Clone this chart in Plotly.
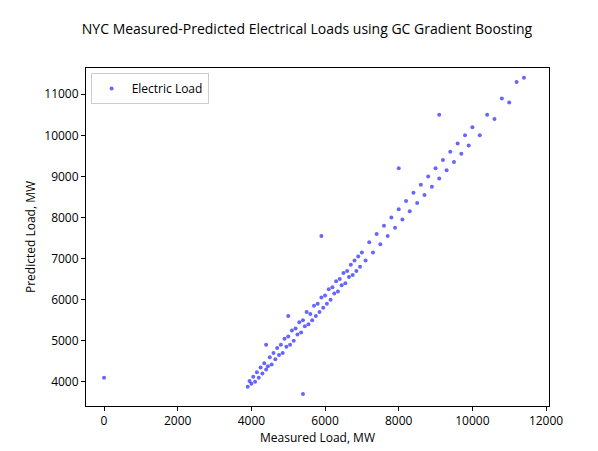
import plotly.graph_objects as go

# measured vs predicted load (MW), points
measured = [
    0, 3900, 3950, 4000, 4050, 4100, 4150, 4200, 4250, 4300, 4350, 4400, 4450,
    4500, 4550, 4600, 4650, 4700, 4750, 4800, 4850, 4900, 4950, 5000, 5050,
    5100, 5150, 5200, 5250, 5300, 5350, 5400, 5450, 5500, 5550, 5600, 5650,
    5700, 5750, 5800, 5850, 5900, 5950, 6000, 6050, 6100, 6150, 6200, 6250,
    6300, 6350, 6400, 6450, 6500, 6550, 6600, 6650, 6700, 6750, 6800, 6850,
    6900, 6950, 7000, 7100, 7200, 7300, 7400, 7500, 7600, 7700, 7800, 7900,
    8000, 8100, 8200, 8300, 8400, 8500, 8600, 8700, 8800, 8900, 9000, 9100,
    9200, 9300, 9400, 9500, 9600, 9700, 9800, 9900, 10000, 10200, 10400,
    10600, 10800, 11000, 11200, 11400, 5900, 5400, 8000, 9100, 4400, 5000,
]
predicted = [
    4100, 3880, 4020, 3950, 4120, 4000, 4230, 4100, 4350, 4200, 4450, 4300, 4380,
    4600, 4420, 4700, 4550, 4820, 4650, 4900, 4700, 5050, 4850, 5100, 4900,
    5250, 5000, 5300, 5150, 5450, 5200, 5500, 5350, 5700, 5400, 5650, 5500,
    5850, 5600, 5900, 5700, 6050, 5800, 6100, 5900, 6250, 6000, 6300, 6150,
    6450, 6200, 6500, 6350, 6650, 6400, 6700, 6550, 6850, 6600, 6950, 6700,
    7050, 6800, 7150, 6950, 7400, 7150, 7600, 7350, 7800, 7550, 8000, 7750,
    8200, 7950, 8400, 8150, 8600, 8350, 8800, 8550, 9000, 8750, 9200, 8950,
    9400, 9150, 9600, 9350, 9800, 9550, 10000, 9750, 10200, 10000, 10500,
    10400, 10900, 10800, 11300, 11400, 7550, 3700, 9200, 10500, 4900, 5600,
]

fig = go.Figure()
fig.add_trace(go.Scatter(
    x=measured,
    y=predicted,
    mode='markers',
    name='Electric Load',
    marker=dict(color='blue', size=4, opacity=0.6),
))

axis_style = dict(
    showline=True, linecolor='black', linewidth=1, mirror=True,
    ticks='outside', ticklen=4, tickcolor='black', showgrid=False,
    zeroline=False, tickformat='d', tickfont=dict(size=12, color='black'),
)

fig.update_layout(
    width=598,
    height=451,
    paper_bgcolor='white',
    plot_bgcolor='white',
    font=dict(family='Open Sans', color='black'),
    title=dict(
        text='NYC Measured-Predicted Electrical Loads using GC Gradient Boosting',
        x=0.5, xanchor='center', y=0.965, font=dict(size=14),
    ),
    margin=dict(l=78, r=57, t=60, b=53),
    xaxis=dict(axis_style, range=[-490, 12080], dtick=2000,
               title=dict(text='Measured Load, MW', font=dict(size=12), standoff=4)),
    yaxis=dict(axis_style, range=[3410, 11640], dtick=1000,
               title=dict(text='Predicted Load, MW', font=dict(size=12), standoff=6)),
    showlegend=True,
    legend=dict(x=0.01, y=0.985, xanchor='left', yanchor='top',
                bordercolor='#cccccc', borderwidth=1, font=dict(size=12)),
)

fig.write_html("out.html")
